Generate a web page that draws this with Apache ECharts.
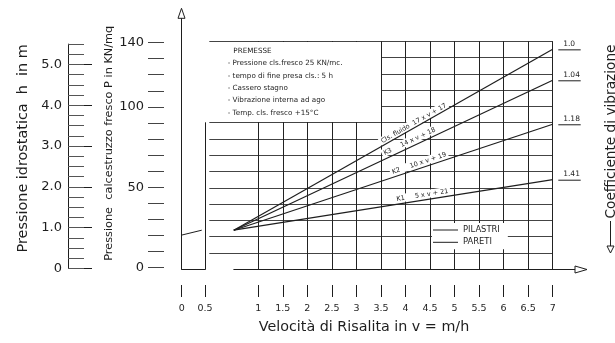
<!DOCTYPE html>
<html><head><meta charset="utf-8">
<script src="https://cdn.jsdelivr.net/npm/echarts@6/dist/echarts.min.js"></script>
<style>html,body{margin:0;padding:0;background:#fff}#c{width:615px;height:343px}</style>
</head><body><div id="c"></div><script>
// ---------------- DATA ----------------
const lineNames = ['Cls. fluido', 'K3', 'K2', 'K1'];
const lineFormulas = ['17 x v + 17', '14 x v + 18', '10 x v + 19', '5 x v + 21'];
const lineStartV = 0.5;
const lineStartP = 24;
const lineEndV = 7;
const lineEndP = [135, 116, 89, 55];
const vibCoeff = ['1.0', '1.04', '1.18', '1.41'];
const labelAtV = [4.21, 4.13, 4.31, 4.36];
const breakSegment = [[0, 21], [0.43, 24]];
const xMainMin = 1, xMainMax = 7, xStep = 0.5;
const xBreakMin = 0, xBreakMax = 0.5;
const pMax = 140, pStep = 10;
const pLabels = [0, 50, 100, 140];
const hMajorMax = 5, hMinorMax = 5.5, hMinorStep = 0.25;
const premesseTitle = 'PREMESSE';
const premesseItems = ['- Pressione cls.fresco 25 KN/mc.', '- tempo di fine presa cls.: 5 h', '- Cassero stagno', '- Vibrazione interna ad ago', '- Temp. cls. fresco +15°C'];
const legendItems = ['PILASTRI', 'PARETI'];
const titleH = 'Pressione idrostatica  h  in m';
const titleP = 'Pressione  calcestruzzo fresco P in KN/mq';
const titleX = 'Velocità di Risalita in v = m/h';
const titleCoeff = 'Coefficiente di vibrazione';

// ---------------- STYLE / LAYOUT ----------------
const FONT = '"DejaVu Sans", sans-serif';
const INK = '#1e1e1e';
const GRIDV = '#222';
const GRIDH = '#444';
const W = 615, H = 343;
const Y0 = 269.3, Y140 = 41.2;

const chart = echarts.init(document.getElementById('c'), null, {renderer: 'canvas'});

const off = {show: false};
const lineOff = {show: false, onZero: false};
const hid = (gi, min, max) => ({gridIndex: gi, type: 'value', show: false, min: min, max: max});

const grids = [
  {left: 68, width: 1, top: 64.3, bottom: H - 268.5},           // 0 h major
  {left: 68, width: 1, top: 44.1, bottom: H - 268.5},           // 1 h minor
  {left: 164, width: 1, top: 42.5, bottom: H - 267.7},          // 2 P ticks
  {left: 181.7, right: W - 205, top: 13.5, bottom: H - Y0},     // 3 break box
  {left: 181.7, right: W - 205, top: 122.7, bottom: H - Y0},    // 4 break right edge
  {left: 209.3, right: W - 258.3, top: Y140, bottom: H - 253.0},// 5 left horizontals
  {left: 258.3, right: W - 552.7, top: Y140, bottom: H - Y0},   // 6 main grid
  {left: 233.8, right: W - 552.7, top: Y140, bottom: H - Y0},   // 7 data
  {left: 233.8, right: W - 581, top: Y140, bottom: H - Y0}      // 8 arrow axis
];

const xAxes = [
  hid(0, 0, 1), hid(1, 0, 1), hid(2, 0, 1),
  {gridIndex: 3, type: 'value', min: xBreakMin, max: xBreakMax, position: 'bottom',
   axisLine: {show: true, onZero: false, lineStyle: {color: INK, width: 1}}, axisTick: off, axisLabel: off, splitLine: off},
  {gridIndex: 3, type: 'value', min: xBreakMin, max: xBreakMax, interval: xStep, position: 'bottom', offset: 15.7,
   axisLine: lineOff, axisTick: {show: true, length: 12, lineStyle: {color: INK}},
   axisLabel: {margin: 19, fontSize: 9.5, color: INK, fontFamily: FONT}, splitLine: off},
  hid(4, 0, 1), hid(5, 0, 1),
  {gridIndex: 6, type: 'value', min: xMainMin, max: xMainMax, interval: xStep, position: 'bottom', offset: 15.7,
   axisLine: lineOff, axisTick: {show: true, length: 12, lineStyle: {color: INK}},
   axisLabel: {margin: 19, fontSize: 9.5, color: INK, fontFamily: FONT},
   splitLine: {show: true, lineStyle: {color: GRIDV, width: 1}}},
  hid(7, lineStartV, xMainMax),
  {gridIndex: 8, type: 'value', min: 0, max: 1,
   axisLine: {show: true, onZero: false, lineStyle: {color: INK, width: 1}},
   axisTick: off, axisLabel: off, splitLine: off}
];

const yAxes = [
  {gridIndex: 0, type: 'value', min: 0, max: hMajorMax, interval: 1, axisLine: lineOff,
   axisTick: {show: true, inside: true, length: 24, lineStyle: {color: INK}},
   axisLabel: {margin: 6, fontSize: 13, color: INK, fontFamily: FONT, formatter: v => v === 0 ? '0' : v.toFixed(1)},
   splitLine: off},
  {gridIndex: 1, type: 'value', min: 0, max: hMinorMax, interval: hMinorStep,
   axisLine: {show: true, onZero: false, lineStyle: {color: INK, width: 1}},
   axisTick: {show: true, inside: true, length: 16, lineStyle: {color: '#555'}}, axisLabel: off, splitLine: off},
  {gridIndex: 2, type: 'value', min: 0, max: pMax, interval: pStep, axisLine: lineOff,
   axisTick: {show: true, length: 16, lineStyle: {color: '#444'}},
   axisLabel: {margin: 20, fontSize: 13, color: INK, fontFamily: FONT, formatter: v => pLabels.includes(v) ? String(v) : ''},
   splitLine: off},
  {gridIndex: 3, type: 'value', min: 0, max: 157,
   axisLine: {show: true, onZero: false, lineStyle: {color: INK, width: 1}},
   axisTick: off, axisLabel: off, splitLine: off},
  {gridIndex: 4, type: 'value', min: 0, max: 90, position: 'right',
   axisLine: {show: true, onZero: false, lineStyle: {color: INK, width: 1}}, axisTick: off, axisLabel: off, splitLine: off},
  {gridIndex: 5, type: 'value', min: 10, max: pMax, interval: pStep, axisLine: lineOff, axisTick: off, axisLabel: off,
   splitLine: {show: true, lineStyle: {color: GRIDH, width: 1}}},
  {gridIndex: 6, type: 'value', min: 0, max: pMax, interval: pStep, axisLine: lineOff, axisTick: off, axisLabel: off,
   splitLine: {show: true, lineStyle: {color: GRIDH, width: 1}}},
  hid(7, 0, pMax),
  hid(8, 0, 1)
];

const series = [
  {type: 'line', name: 'break', xAxisIndex: 3, yAxisIndex: 3, data: breakSegment, symbol: 'none',
   lineStyle: {color: INK, width: 1}, silent: true, z: 3}
];
lineNames.forEach((n, i) => {
  series.push({type: 'line', name: n, xAxisIndex: 8, yAxisIndex: 7,
    data: [[lineStartV, lineStartP], [lineEndV, lineEndP[i]]],
    symbol: 'none', lineStyle: {color: INK, width: 1.2}, silent: true, z: 3});
});
legendItems.forEach(n => {
  series.push({type: 'line', name: n, xAxisIndex: 8, yAxisIndex: 7, data: [],
    itemStyle: {color: INK}, lineStyle: {color: INK}});
});

chart.setOption({
  animation: false,
  backgroundColor: '#fff',
  textStyle: {fontFamily: FONT},
  grid: grids, xAxis: xAxes, yAxis: yAxes, series: series,
  legend: {data: legendItems, orient: 'vertical', left: 432, top: 223, itemWidth: 25, itemHeight: 1,
    icon: 'rect', itemGap: 2.3, backgroundColor: '#fff', padding: [2, 8, 2, 1], selectedMode: false, z: 6,
    textStyle: {fontSize: 8.4, color: INK, lineHeight: 10, fontFamily: FONT}}
});

// ---------------- ANNOTATIONS ----------------
const txt = (x, y, text, size, align, rot) => ({type: 'text', x: x, y: y, z: 20, silent: true, rotation: rot || 0,
  style: {text: text, fill: INK, fontSize: size, fontFamily: FONT, align: align || 'left', verticalAlign: 'middle'}});

const g = [];
g.push({type: 'rect', z: 10, silent: true, shape: {x: 209, y: 42, width: 172, height: 80}, style: {fill: '#fff'}});
g.push(txt(233.3, 50.7, premesseTitle, 7.2));
premesseItems.forEach((s, i) => g.push(txt(227.7, 63.3 + i * 12.35, s, 7.2)));

g.push(txt(23.5, 148.3, titleH, 14.4, 'center', Math.PI / 2));
g.push(txt(109, 143.3, titleP, 11.3, 'center', Math.PI / 2));
g.push(txt(364, 327, titleX, 14.3, 'center'));
g.push(txt(611, 131.5, titleCoeff, 13.7, 'center', Math.PI / 2));
// coefficient arrow (pointing down)
g.push({type: 'line', z: 20, silent: true, shape: {x1: 610.5, y1: 221, x2: 610.5, y2: 246}, style: {stroke: INK, lineWidth: 1}});
g.push({type: 'polygon', z: 20, silent: true, shape: {points: [[607, 246], [614, 246], [610.5, 253]]}, style: {fill: '#fff', stroke: INK, lineWidth: 1}});
// axis arrow heads (hollow)
g.push({type: 'polygon', z: 20, silent: true, shape: {points: [[178, 18.3], [185, 18.3], [181.5, 8.3]]}, style: {fill: '#fff', stroke: INK, lineWidth: 1}});
g.push({type: 'polygon', z: 20, silent: true, shape: {points: [[575, 266], [575, 273], [587, 269.5]]}, style: {fill: '#fff', stroke: INK, lineWidth: 1}});

const labelGap = [0.6, 2, 1.5, 1.5];
lineNames.forEach((n, i) => {
  const a = chart.convertToPixel({seriesIndex: 1 + i}, [lineStartV, lineStartP]);
  const b = chart.convertToPixel({seriesIndex: 1 + i}, [lineEndV, lineEndP[i]]);
  const t = (labelAtV[i] - lineStartV) / (lineEndV - lineStartV);
  const px = a[0] + t * (b[0] - a[0]), py = a[1] + t * (b[1] - a[1]);
  const ang = Math.atan2(a[1] - b[1], b[0] - a[0]);
  const d = labelGap[i];
  const sep = i === 0 ? '  ' : '     ';
  g.push({type: 'text', z: 1, silent: true, x: px - d * Math.sin(ang), y: py - d * Math.cos(ang), rotation: ang,
    style: {text: n + sep + lineFormulas[i], fill: INK, fontSize: 6.5, fontFamily: FONT, align: 'center',
      verticalAlign: 'bottom', backgroundColor: '#fff', padding: [1, 2, 0, 2]}});
  // coefficient of vibration at the end of each line
  g.push({type: 'text', z: 20, silent: true, x: b[0] + 10.5, y: b[1] - 1.2,
    style: {text: vibCoeff[i], fill: INK, fontSize: 7.5, fontFamily: FONT, align: 'left', verticalAlign: 'bottom'}});
  g.push({type: 'line', z: 20, silent: true, shape: {x1: b[0] + 5.6, y1: b[1] + 0.5, x2: b[0] + 28, y2: b[1] + 0.5},
    style: {stroke: INK, lineWidth: 1}});
});
chart.setOption({graphic: g});
</script></body></html>
